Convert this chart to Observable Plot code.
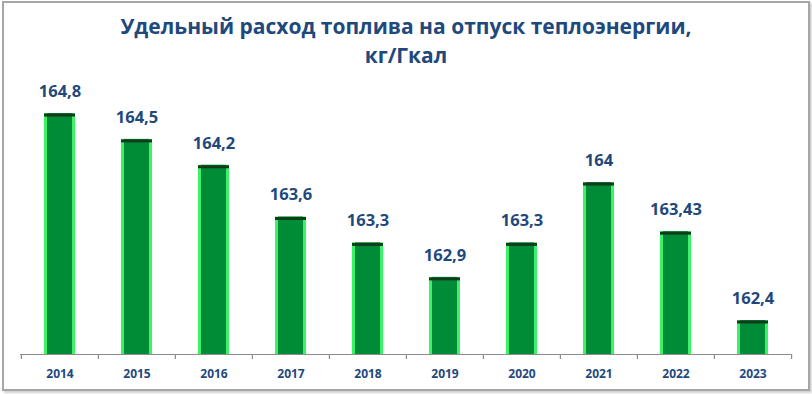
<!DOCTYPE html>
<html>
<head>
<meta charset="utf-8">
<script src="https://cdn.jsdelivr.net/npm/d3@7"></script>
<script src="https://cdn.jsdelivr.net/npm/@observablehq/plot@0.6"></script>
<style>
  html, body { margin: 0; padding: 0; background: #fff; }
  #wrap { position: relative; width: 812px; height: 394px; overflow: hidden; font-family: "Open Sans", sans-serif; }
  #frame { position: absolute; left: 2px; top: 1px; width: 804px; height: 386px; border: 2px solid #a6a6a6; box-shadow: 2px 2px 2px #d0d0d0; }
  #title { position: absolute; left: 0; top: 12px; width: 812px; text-align: center; color: #1f497d; font-weight: bold; font-size: 21px; line-height: 29px; }
  #chart { position: absolute; left: 0; top: 0; }
</style>
</head>
<body>
<div id="wrap">
  <div id="frame"></div>
  <div id="title">Удельный расход топлива на отпуск теплоэнергии,<br>кг/Гкал</div>
  <div id="chart"></div>
</div>
<script>
const years = ["2014","2015","2016","2017","2018","2019","2020","2021","2022","2023"];
const values = [164.8, 164.5, 164.2, 163.6, 163.3, 162.9, 163.3, 164.0, 163.43, 162.4];
const labels = ["164,8","164,5","164,2","163,6","163,3","162,9","163,3","164","163,43","162,4"];

const data = years.map((year, i) => ({year, value: values[i], label: labels[i]}));
const yMin = 162.006;
const yMax = 165.183;
const step = (812 - 20 - 20) / years.length;
const half = step / 2;
const blue = "#1f497d";

const plot = Plot.plot({
  width: 812,
  height: 394,
  marginLeft: 20,
  marginRight: 20,
  marginTop: 80,
  marginBottom: 40,
  style: {fontFamily: "'Open Sans', sans-serif", fontWeight: "bold", background: "transparent"},
  x: {domain: years, paddingInner: 0.6, paddingOuter: 0.3, label: null},
  y: {domain: [yMin, yMax], axis: null},
  marks: [
    Plot.barY(data, {x: "year", y1: yMin, y2: "value", fill: "#3cf266"}),
    Plot.barY(data, {x: "year", y1: yMin, y2: "value", fill: "#008c36", insetLeft: 3, insetRight: 3}),
    Plot.tickY(data, {x: "year", y: "value", stroke: "#123c1c", strokeWidth: 3, dy: 1.5}),
    Plot.ruleY([yMin], {stroke: "#8c8c8c", strokeWidth: 1.2}),
    Plot.ruleX(years, {x: d => d, dx: -half, y1: yMin, y2: yMin - 5 / 86.25, stroke: "#8c8c8c", strokeWidth: 1.2}),
    Plot.ruleX([years[years.length - 1]], {x: d => d, dx: half, y1: yMin, y2: yMin - 5 / 86.25, stroke: "#8c8c8c", strokeWidth: 1.2}),
    Plot.text(data, {x: "year", y: "value", text: "label", dy: -22, fill: blue, fontSize: 16.5, fontWeight: "bold"}),
    Plot.axisX({tickSize: 0, tickPadding: 15, fontSize: 12, fill: blue, fontWeight: "bold", label: null})
  ]
});
document.getElementById("chart").appendChild(plot);
</script>
</body>
</html>
